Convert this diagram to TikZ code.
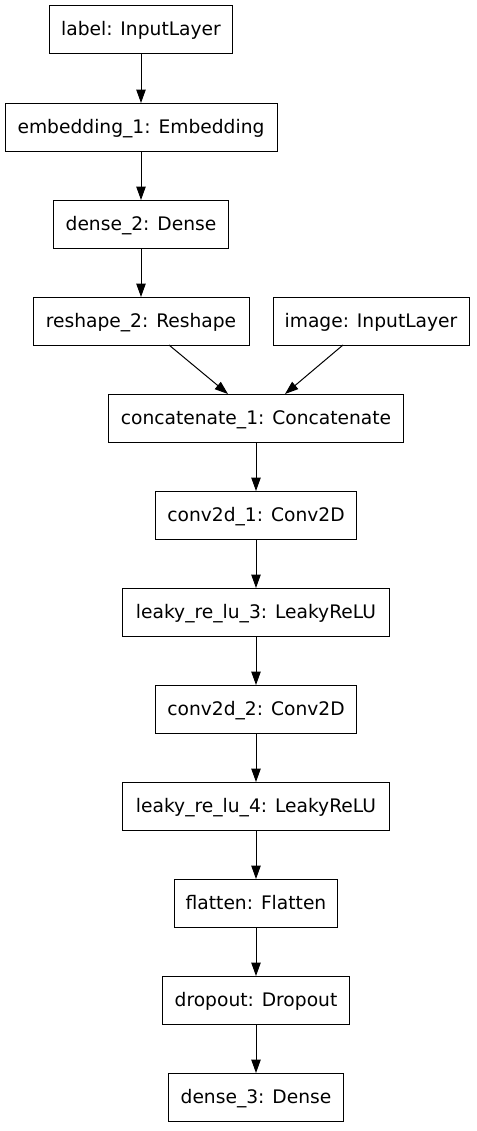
\documentclass[tikz,border=0pt]{standalone}
\usepackage{fontspec}
\newfontfamily\dejavu{DejaVu Sans}
\usepackage{tikz}
\usetikzlibrary{arrows.meta, positioning}
\tikzset{
  lyr/.style ={rectangle, draw, line width=0.75pt, minimum height=36pt, inner sep=0pt, outer sep=0pt, text height=10.5pt, text depth=1.5pt, font=\dejavu\fontsize{14}{16}\selectfont},
  fl/.style  ={line width=0.75pt, -{Triangle[length=10pt, width=7pt]}},
}
\begin{document}
\begin{tikzpicture}[x=0.75pt, y=-0.75pt, node distance=36.75pt]
  \useasboundingbox (0,0) rectangle (476,1131);
  \node[lyr, minimum width=137pt] at (141,30) (lbl) {label: InputLayer};
  \node[lyr, minimum width=204pt, below=of lbl] (emb) {embedding\_1: Embedding};
  \node[lyr, minimum width=131pt, below=of emb] (dn2) {dense\_2: Dense};
  \node[lyr, minimum width=162pt, below=of dn2] (rsh) {reshape\_2: Reshape};
  \node[lyr, minimum width=147pt] at (371,321) (img) {image: InputLayer};
  \node[lyr, minimum width=221pt] at (256,418) (cat) {concatenate\_1: Concatenate};
  \node[lyr, minimum width=151pt, below=of cat] (cv1) {conv2d\_1: Conv2D};
  \node[lyr, minimum width=200pt, below=of cv1] (lk3) {leaky\_re\_lu\_3: LeakyReLU};
  \node[lyr, minimum width=151pt, below=of lk3] (cv2) {conv2d\_2: Conv2D};
  \node[lyr, minimum width=200pt, below=of cv2] (lk4) {leaky\_re\_lu\_4: LeakyReLU};
  \node[lyr, minimum width=122pt, below=of lk4] (flt) {flatten: Flatten};
  \node[lyr, minimum width=140pt, below=of flt] (drp) {dropout: Dropout};
  \node[lyr, minimum width=131pt, below=of drp] (dn3) {dense\_3: Dense};
  \draw[fl] (lbl)--(emb);
  \draw[fl] (emb)--(dn2);
  \draw[fl] (dn2)--(rsh);
  \draw[fl] ([xshift=21pt]rsh.south)--([xshift=-21pt]cat.north);
  \draw[fl] ([xshift=-21pt]img.south)--([xshift=21.75pt]cat.north);
  \draw[fl] (cat)--(cv1);
  \draw[fl] (cv1)--(lk3);
  \draw[fl] (lk3)--(cv2);
  \draw[fl] (cv2)--(lk4);
  \draw[fl] (lk4)--(flt);
  \draw[fl] (flt)--(drp);
  \draw[fl] (drp)--(dn3);
\end{tikzpicture}
\end{document}
